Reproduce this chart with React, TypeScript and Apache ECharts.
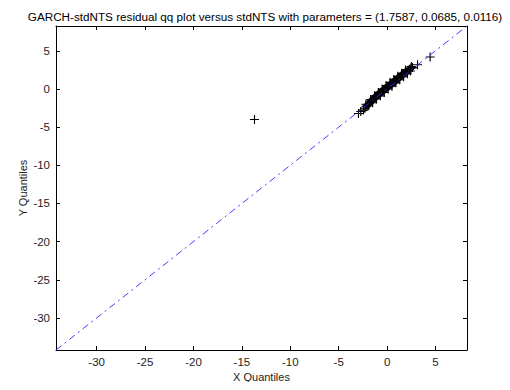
import React, { useEffect, useRef } from "react";
import * as echarts from "echarts";

const titleText =
  "GARCH-stdNTS residual qq plot versus stdNTS with parameters = (1.7587, 0.0685, 0.0116)";
const xName = "X Quantiles";
const yName = "Y Quantiles";
const axisMin = -34.2;
const axisMax = 8.25;

// Bulk of the sample quantiles (x, y)
const qqPoints: [number, number][] = [
  [-2.96, -3.21], [-2.72, -2.95], [-2.44, -2.77], [-2.3, -2.52], [-2.18, -2.33],
  [-2.08, -2.2], [-1.98, -2.05], [-1.89, -1.93], [-1.8, -1.82], [-1.72, -1.71],
  [-1.64, -1.61], [-1.56, -1.51], [-1.49, -1.42], [-1.42, -1.33], [-1.35, -1.24],
  [-1.28, -1.16], [-1.21, -1.08], [-1.15, -1.0], [-1.08, -0.93], [-1.02, -0.86],
  [-0.96, -0.79], [-0.9, -0.72], [-0.84, -0.65], [-0.78, -0.59], [-0.72, -0.52],
  [-0.66, -0.46], [-0.6, -0.4], [-0.54, -0.33], [-0.48, -0.27], [-0.42, -0.21],
  [-0.36, -0.15], [-0.3, -0.08], [-0.24, -0.02], [-0.18, 0.04], [-0.12, 0.1],
  [-0.06, 0.16], [0.0, 0.22], [0.06, 0.28], [0.12, 0.34], [0.18, 0.4],
  [0.24, 0.46], [0.3, 0.52], [0.36, 0.58], [0.42, 0.64], [0.48, 0.7],
  [0.54, 0.77], [0.6, 0.83], [0.66, 0.89], [0.72, 0.96], [0.78, 1.02],
  [0.84, 1.09], [0.9, 1.15], [0.97, 1.22], [1.04, 1.29], [1.11, 1.36],
  [1.18, 1.44], [1.25, 1.51], [1.32, 1.59], [1.4, 1.67], [1.48, 1.76],
  [1.56, 1.85], [1.65, 1.94], [1.74, 2.03], [1.84, 2.13], [1.94, 2.23],
  [2.05, 2.34], [2.17, 2.45], [2.3, 2.57], [2.45, 2.7], [2.62, 2.8],
  [3.14, 3.17], [4.44, 4.19],
];
// Spread of the band around the bulk
const bandPoints: [number, number][] = [
  [-2.2, -2.0], [-1.9, -2.2], [-1.7, -1.4], [-1.5, -1.8], [-1.3, -0.9],
  [-1.1, -1.3], [-0.9, -0.45], [-0.7, -0.9], [-0.5, 0.0], [-0.3, -0.45],
  [-0.1, 0.45], [0.1, 0.0], [0.3, 0.85], [0.5, 0.35], [0.7, 1.25],
  [0.9, 0.8], [1.1, 1.65], [1.3, 1.2], [1.5, 2.05], [1.7, 1.6],
  [1.9, 2.5], [2.1, 2.0], [2.4, 2.35], [2.5, 2.95],
];
// Isolated outlier
const outlierPoints: [number, number][] = [[-13.7, -4.0]];
// Reference line end points
const refLine: [number, number][] = [
  [-34.2, -34.2],
  [8.25, 8.25],
];

const plusSymbol =
  "path://M3.5,0H4.5V3.5H8V4.5H4.5V8H3.5V4.5H0V3.5H3.5Z";

const FONT = "Liberation Sans, Arial, sans-serif";

export default function App() {
  const ref = useRef<HTMLDivElement>(null);
  useEffect(() => {
    if (!ref.current) return;
    const chart = echarts.init(ref.current, undefined, { renderer: "svg" });
    const axisCommon = {
      type: "value" as const,
      min: axisMin,
      max: axisMax,
      splitNumber: 8,
      splitLine: { show: false },
      axisLine: { show: true, onZero: false, lineStyle: { color: "#000", width: 1 } },
      axisTick: { show: true, inside: true, length: 4, lineStyle: { color: "#000" } },
    };
    const markerStyle = { color: "#000", opacity: 1 };
    chart.setOption({
      animation: false,
      backgroundColor: "#fff",
      title: {
        text: titleText,
        left: 260,
        top: 5,
        textAlign: "center",
        textStyle: { fontFamily: FONT, fontSize: 11.7, fontWeight: "normal", color: "#000" },
      },
      grid: { left: 56, right: 43, top: 26, bottom: 40, containLabel: false },
      xAxis: [
        {
          ...axisCommon,
          position: "bottom",
          name: xName,
          nameLocation: "middle",
          nameGap: 21,
          nameMoveOverlap: false,
          nameTextStyle: { fontFamily: FONT, fontSize: 11, color: "#222" },
          axisLabel: {
            showMinLabel: false,
            showMaxLabel: false,
            margin: 6,
            fontFamily: FONT,
            fontSize: 11.5,
            color: "#222",
          },
        },
        {
          ...axisCommon,
          position: "top",
          axisLabel: { show: false },
        },
      ],
      yAxis: [
        {
          ...axisCommon,
          position: "left",
          name: yName,
          nameLocation: "middle",
          nameGap: 28,
          nameMoveOverlap: false,
          nameTextStyle: { fontFamily: FONT, fontSize: 11, color: "#222" },
          axisLabel: {
            showMinLabel: false,
            showMaxLabel: false,
            margin: 6,
            fontFamily: FONT,
            fontSize: 11.5,
            color: "#222",
          },
        },
        {
          ...axisCommon,
          position: "right",
          axisLabel: { show: false },
        },
      ],
      series: [
        {
          type: "scatter",
          data: bandPoints,
          symbol: plusSymbol,
          symbolSize: 9,
          itemStyle: markerStyle,
          z: 2,
        },
        {
          type: "scatter",
          data: qqPoints,
          symbol: plusSymbol,
          symbolSize: 9,
          itemStyle: markerStyle,
          z: 2,
        },
        {
          type: "scatter",
          data: outlierPoints,
          symbol: plusSymbol,
          symbolSize: 9,
          itemStyle: markerStyle,
          z: 2,
        },
        {
          type: "line",
          data: refLine,
          showSymbol: false,
          symbol: "none",
          clip: true,
          lineStyle: { color: "#2a2aff", width: 1, type: [7, 4, 2, 4], opacity: 0.9 },
          silent: true,
          z: 3,
        },
      ],
    });
    return () => chart.dispose();
  }, []);
  return <div ref={ref} style={{ width: 510, height: 390, margin: -8 }} />;
}
